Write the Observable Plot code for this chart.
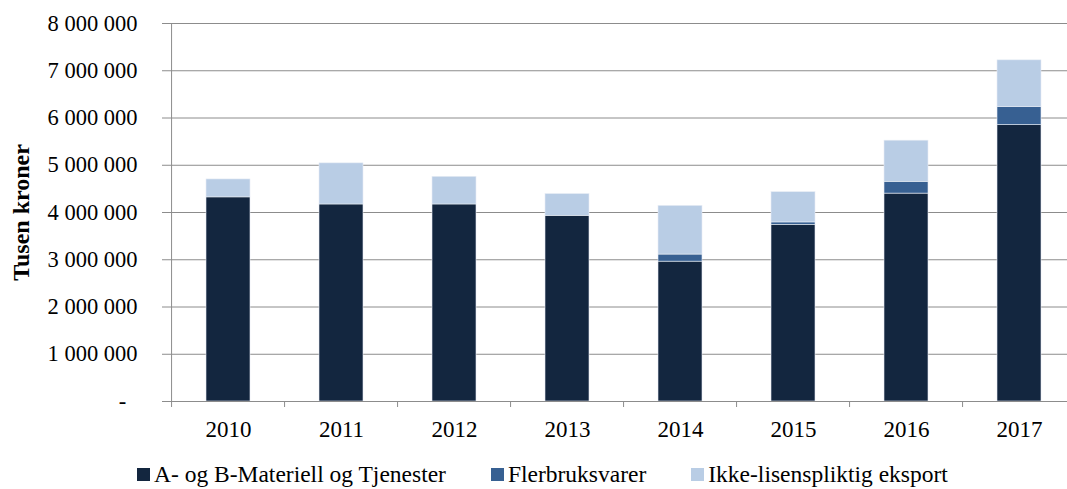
<!DOCTYPE html>
<html>
<head>
<meta charset="utf-8">
<script src="https://cdn.jsdelivr.net/npm/d3@7"></script>
<script src="https://cdn.jsdelivr.net/npm/@observablehq/plot@0.6"></script>
<style>
  html, body { margin: 0; padding: 0; background: #fff; }
  body { width: 1067px; height: 489px; overflow: hidden; position: relative; font-family: "Liberation Serif", "Times New Roman", serif; }
  #legend { position: absolute; left: 137px; top: 459px; height: 30px; display: flex; align-items: center; gap: 45px; font-size: 23.5px; color: #000; white-space: nowrap; }
  .item { display: flex; align-items: center; gap: 4px; }
  .sw { width: 13px; height: 13px; display: inline-block; }
</style>
</head>
<body>
<div id="chart"></div>
<div id="legend"></div>
<script>
const years = ["2010", "2011", "2012", "2013", "2014", "2015", "2016", "2017"];
const seriesNames = ["A- og B-Materiell og Tjenester", "Flerbruksvarer", "Ikke-lisenspliktig eksport"];
const seriesColors = ["#13263f", "#376092", "#b9cde5"];
const materiell = [4320000, 4170000, 4170000, 3930000, 2960000, 3740000, 4400000, 5850000];
const flerbruk = [0, 0, 0, 0, 150000, 50000, 250000, 380000];
const ikkeLisens = [380000, 870000, 585000, 460000, 1030000, 640000, 870000, 990000];
const yTicks = [0, 1000000, 2000000, 3000000, 4000000, 5000000, 6000000, 7000000, 8000000];
const yLabel = "Tusen kroner";

const seriesValues = [materiell, flerbruk, ikkeLisens];
const data = [];
seriesNames.forEach((s, si) => {
  years.forEach((y, i) => data.push({year: y, series: s, value: seriesValues[si][i]}));
});

const W = 1067, H = 450;
const xRange = [168, 1079];
const step = (xRange[1] - xRange[0]) / years.length;
const fontFamily = '"Liberation Serif", "Times New Roman", serif';
const fmt = d => d === 0 ? "-\u00a0\u00a0" : d3.format(",")(d).replace(/,/g, " ");

const chart = Plot.plot({
  width: W,
  height: H,
  marginTop: 23,
  marginBottom: 49,
  marginLeft: 168,
  marginRight: 0,
  style: {fontFamily, fontSize: "22.5px", color: "#000", background: "#fff"},
  x: {type: "band", domain: years, range: xRange, paddingInner: 0.61, paddingOuter: 0.305},
  y: {domain: [0, 8000000]},
  color: {domain: seriesNames, range: seriesColors},
  marks: [
    Plot.gridY(yTicks, {stroke: "#8c8c8c", strokeOpacity: 1, strokeWidth: 1}),
    Plot.barY(data, Plot.stackY({x: "year", y: "value", fill: "series", order: seriesNames, stroke: "#e6ecf4", strokeWidth: 0.6})),
    Plot.ruleY([0], {stroke: "#8c8c8c"}),
    Plot.ruleX([years[0]], {y1: 0, y2: 8000000, dx: -step / 2, stroke: "#8c8c8c"}),
    Plot.axisY(yTicks, {tickSize: 6, tickPadding: 25, tickFormat: fmt, stroke: "#8c8c8c", label: null, fill: "#000"}),
    Plot.axisX({tickSize: 6, dx: -step / 2, text: null, label: null, stroke: "#8c8c8c"}),
    Plot.axisX({tickSize: 0, tickPadding: 19, label: null, fill: "#000", fontSize: 23}),
    Plot.text([yLabel], {text: d => d, frameAnchor: "left", rotate: -90, dx: -147, fontWeight: "bold", fontSize: 24, fill: "#000", textAnchor: "middle"})
  ]
});
document.getElementById("chart").appendChild(chart);

const legend = document.getElementById("legend");
seriesNames.forEach((s, i) => {
  const it = document.createElement("div");
  it.className = "item";
  const sw = document.createElement("span");
  sw.className = "sw";
  sw.style.background = seriesColors[i];
  const t = document.createElement("span");
  t.textContent = s;
  it.appendChild(sw); it.appendChild(t);
  legend.appendChild(it);
});
</script>
</body>
</html>
